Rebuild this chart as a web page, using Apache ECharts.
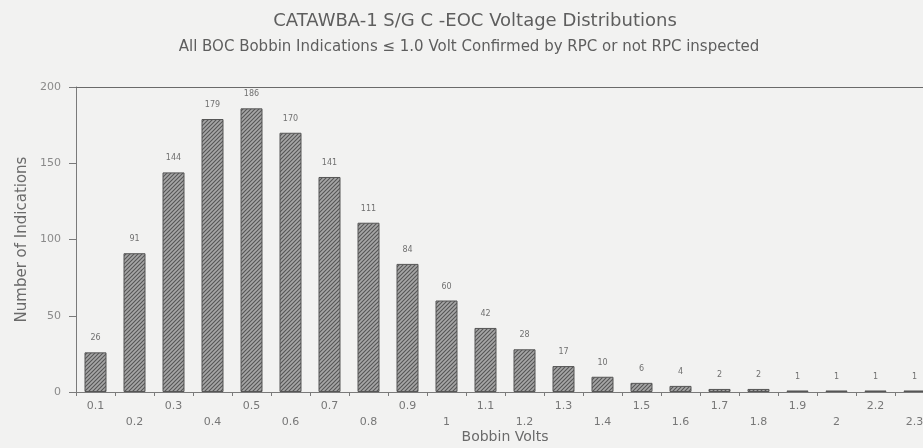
<!DOCTYPE html>
<html>
<head>
<meta charset="utf-8">
<title>CATAWBA-1 S/G C EOC Voltage Distributions</title>
<script src="https://cdn.jsdelivr.net/npm/echarts@6/dist/echarts.min.js"></script>
<style>
  html, body { margin: 0; padding: 0; background: #f2f2f1; }
  #chart { width: 923px; height: 448px; }
</style>
</head>
<body>
<div id="chart"></div>
<script>
// Bobbin voltage bins (volts) and indication counts per bin
const voltBins = ['0.1', '0.2', '0.3', '0.4', '0.5', '0.6', '0.7', '0.8', '0.9', '1',
                  '1.1', '1.2', '1.3', '1.4', '1.5', '1.6', '1.7', '1.8', '1.9', '2',
                  '2.2', '2.3'];
const indicationCounts = [26, 91, 144, 179, 186, 170, 141, 111, 84, 60,
                          42, 28, 17, 10, 6, 4, 2, 2, 1, 1,
                          1, 1];
const countTicks = [0, 50, 100, 150, 200];

// Diagonal hatch fill for the bars
function hatchPattern() {
  const c = document.createElement('canvas');
  c.width = 4; c.height = 4;
  const g = c.getContext('2d');
  g.fillStyle = '#a6a6a6';
  g.fillRect(0, 0, 4, 4);
  g.strokeStyle = '#555555';
  g.lineWidth = 1.1;
  g.beginPath();
  g.moveTo(-1, 5); g.lineTo(5, -1);
  g.moveTo(-1, 1); g.lineTo(1, -1);
  g.moveTo(3, 5); g.lineTo(5, 3);
  g.stroke();
  return c;
}

const chart = echarts.init(document.getElementById('chart'), null, { renderer: 'canvas' });
const grey = '#6a6a6a';
const font = 'DejaVu Sans, sans-serif';

chart.setOption({
  backgroundColor: '#f2f2f1',
  animation: false,
  textStyle: { fontFamily: font },
  title: [
    {
      text: 'CATAWBA-1 S/G C -EOC Voltage Distributions',
      left: 470, top: 7, textAlign: 'center',
      textStyle: { fontSize: 18, fontWeight: 'normal', color: '#5e5e5e', fontFamily: font }
    },
    {
      text: 'All BOC Bobbin Indications \u2264 1.0 Volt Confirmed by RPC or not RPC inspected',
      left: 464, top: 35, textAlign: 'center',
      textStyle: { fontSize: 15, fontWeight: 'normal', color: '#5e5e5e', fontFamily: font }
    }
  ],
  grid: { left: 76, top: 87, width: 858, height: 305, outerBoundsMode: 'none' },
  xAxis: [
    {
      type: 'category',
      data: voltBins,
      name: 'Bobbin Volts',
      nameLocation: 'middle',
      nameGap: 38,
      nameMoveOverlap: false,
      nameTextStyle: { fontSize: 14, color: grey, fontFamily: font },
      axisLine: { lineStyle: { color: '#7a7a7a', width: 1 } },
      axisTick: { show: true, length: 4, lineStyle: { color: '#7a7a7a' } },
      axisLabel: {
        interval: 0,
        fontSize: 11,
        color: '#777',
        margin: 6,
        lineHeight: 16,
        formatter: (v, i) => (i % 2 === 1 ? '\n' + v : v)
      }
    },
    {
      type: 'category',
      position: 'top',
      data: voltBins,
      axisLine: { show: true, lineStyle: { color: '#6a6a6a', width: 1.2 } },
      axisTick: { show: false },
      axisLabel: { show: false }
    }
  ],
  yAxis: {
    type: 'value',
    min: 0, max: 200, interval: 50,
    name: 'Number of Indications',
    nameLocation: 'middle',
    nameGap: 46,
    nameMoveOverlap: false,
    nameTextStyle: { fontSize: 15, color: grey, fontFamily: font },
    axisLine: { show: true, lineStyle: { color: '#7a7a7a' } },
    axisTick: { show: true, length: 7, lineStyle: { color: '#7a7a7a' } },
    splitLine: { show: false },
    axisLabel: {
      fontSize: 11, color: '#8a8a8a', margin: 15,
      formatter: v => (countTicks.includes(v) ? String(v) : '')
    }
  },
  series: [{
    type: 'bar',
    data: indicationCounts,
    barWidth: 22,
    itemStyle: {
      color: { image: hatchPattern(), repeat: 'repeat' },
      borderColor: '#555',
      borderWidth: 1
    },
    label: {
      show: true,
      position: 'top',
      distance: 10,
      fontSize: 8,
      color: '#707070'
    }
  }]
});
</script>
</body>
</html>
